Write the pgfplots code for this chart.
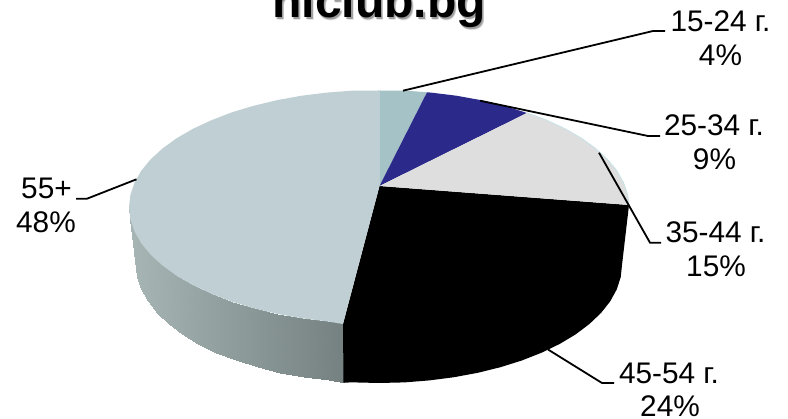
\documentclass[border=0pt]{standalone}
\usepackage{fontspec}
\setmainfont{Liberation Sans}
\usepackage{pgfplots}
\pgfplotsset{compat=1.18}
\definecolor{sliceA}{HTML}{A5C3C6}
\definecolor{sliceB}{HTML}{2B2A8A}
\definecolor{sliceC}{HTML}{DEDEDE}
\definecolor{sliceD}{HTML}{000000}
\definecolor{sliceE}{HTML}{BFCFD3}
\definecolor{rim}{HTML}{CBE2E6}
\newcommand{\lab}[3]{\node[anchor=base,inner sep=0pt,font=\fontsize{29.8}{29.8}\selectfont] at (axis cs:#1,#2) {#3};}
\newcommand{\ttl}[4]{\node[anchor=base,inner sep=0pt,text=#3,opacity=#4,font=\fontsize{48}{48}\selectfont\bfseries] at (axis cs:#1,#2) {hiclub.bg};}
\begin{document}
\begin{tikzpicture}
\path[use as bounding box,clip] (0,0) rectangle (788pt,419pt);
\begin{axis}[
at={(0,0)}, anchor=south west,
scale only axis, width=788pt, height=419pt,
xmin=0, xmax=788, ymin=0, ymax=419, y dir=reverse,
hide axis, clip=false,
colormap={wall}{rgb255=(166,180,180) rgb255=(116,129,128)},
point meta min=136, point meta max=344
]
% side wall of the 55+ slice
\addplot[surf, shader=interp, mesh/rows=2, point meta=x] coordinates {
(344.2,322.9) (327,321.4) (301.7,318.3) (277.3,313.9) (254,308.3) (232,301.7) (211.7,293.9) (193.2,285.3) (176.7,275.8) (162.5,265.5) (150.6,254.6) (141.2,243.2) (134.5,231.3) (130.4,219.2) (129,207)
(344.5,382.6) (328.5,380.4) (303.9,377.2) (280.2,372.8) (257.5,367.2) (236.2,360.5) (216.4,352.7) (198.4,344) (182.4,334.4) (168.6,324) (157,313) (147.9,301.5) (141.3,289.5) (137.3,277.3) (136,265)
};
% 45-54 slice, top and side in one black shape
\addplot[fill=sliceD, draw=none] coordinates {
(379.5,186) (629,205) (622,265) (620.7,277.3) (616.7,289.5) (610.1,301.5) (601,313) (589.4,324) (575.6,334.4) (559.6,344) (541.6,352.7) (521.8,360.5) (500.5,367.2) (477.8,372.8) (454.1,377.2) (429.5,380.4) (404.4,382.4) (379,383) (353.6,382.4) (343.5,382.6) (343,324)
} --cycle;
% 55+
\addplot[fill=sliceE, draw=none] coordinates {
(379.5,186) (343,324) (327,321.4) (301.7,318.3) (277.3,313.9) (254,308.3) (232,301.7) (211.7,293.9) (193.2,285.3) (176.7,275.8) (162.5,265.5) (150.6,254.6) (141.2,243.2) (134.5,231.3) (130.4,219.2) (129,207) (130.4,194.8) (134.5,182.7) (141.2,170.8) (150.6,159.4) (162.5,148.5) (176.7,138.2) (193.2,128.7) (211.7,120.1) (232,112.3) (254,105.7) (277.3,100.1) (301.7,95.7) (327,92.6) (352.9,90.6) (379.3,90.5)
} --cycle;
% 15-24
\addplot[fill=sliceA, draw=none] coordinates {
(379.5,186) (379.3,90.5) (405.1,90.6) (427,92.3)
} --cycle;
% 25-34
\addplot[fill=sliceB, draw=none] coordinates {
(379.5,186) (427,92.3) (431,92.6) (456.3,95.7) (480.7,100.1) (504,105.7) (527,113)
} --cycle;
% 35-44
\addplot[fill=sliceC, draw=none] coordinates {
(379.5,186) (527,113) (546.3,120.1) (564.8,128.7) (581.3,138.2) (595.5,148.5) (607.4,159.4) (616.8,170.8) (623.5,182.7) (627.6,194.8) (629,205)
} --cycle;
\addplot[rim, line width=1pt] coordinates {
(527,113) (546.3,120.1) (564.8,128.7) (581.3,138.2) (595.5,148.5) (607.4,159.4) (616.8,170.8) (623.5,182.7) (627.6,194.8) (629,205)
};
% leader lines
\addplot[black, line width=1.8pt] coordinates {(403,90.7) (653,31) (665,31)};
\addplot[black, line width=1.8pt] coordinates {(480,100.7) (648,136) (660,136)};
\addplot[black, line width=1.8pt] coordinates {(599,152.7) (650,242.7) (661,242.7)};
\addplot[black, line width=1.8pt] coordinates {(548,349.5) (602,383) (614,383)};
\addplot[black, line width=1.8pt] coordinates {(136.5,179.3) (87,198.7) (76,198.7)};
% data labels
\lab{720.5}{32}{15-24 г.}
\lab{720.5}{65.5}{4\%}
\lab{714}{136}{25-34 г.}
\lab{714.5}{170}{9\%}
\lab{715.5}{242.5}{35-44 г.}
\lab{716}{277}{15\%}
\lab{669}{383.3}{45-54 г.}
\lab{670}{417}{24\%}
\lab{46.5}{199}{55+}
\lab{46}{233}{48\%}
% title with soft shadow
\ttl{381.5}{20.5}{black}{0.1}
\ttl{381}{20}{black}{0.15}
\ttl{380.5}{19.5}{black}{0.2}
\ttl{379}{18}{black}{1}
\end{axis}
\end{tikzpicture}
\end{document}
